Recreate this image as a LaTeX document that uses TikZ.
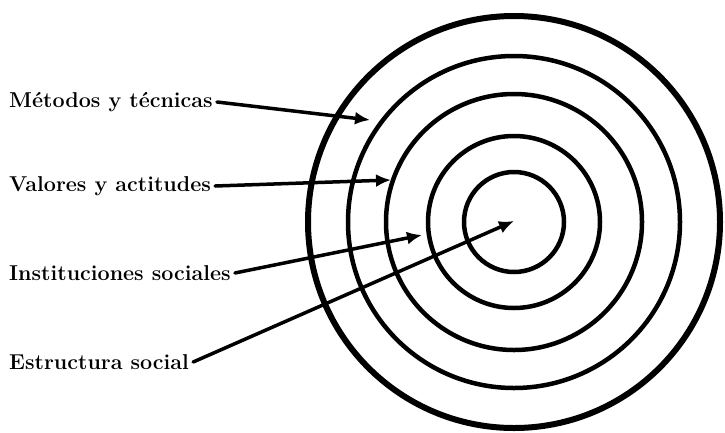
\documentclass[tikz,border=0pt]{standalone}
\usepackage{tikz}
\usetikzlibrary{arrows.meta,positioning}

\begin{document}
\begin{tikzpicture}[x=1pt,y=-1pt,
    lbl/.style={anchor=west,inner sep=4pt,font=\fontsize{21.5}{25}\selectfont\bfseries},
    ring/.style={line width=4.5pt},
    pointer/.style={line width=3.5pt,line cap=round,-{Latex[length=15pt,width=13pt]}}]
    \useasboundingbox (0,0) rectangle (725,432);
    % rings round the common centre
    \coordinate (c) at (514,222);
    \draw[ring,line width=6pt] (c) circle[radius=206pt];
    \foreach \r in {166,128,86,50}
        \draw[ring] (c) circle[radius=\r pt];
    % labels on the left
    \node[lbl] (met) at (5,102) {Métodos y técnicas};
    \node[lbl] (val) at (5,186) {Valores y actitudes};
    \node[lbl] (ins) at (5,273) {Instituciones sociales};
    \node[lbl] (est) at (5,362) {Estructura social};
    % arrow tips, one per ring
    \coordinate (t1) at (370,120);
    \coordinate (t2) at (391,180);
    \coordinate (t3) at (422,235);
    \coordinate (t4) at (514,221);
    \draw[pointer] (met.east) -- (t1);
    \draw[pointer] (val.east) -- (t2);
    \draw[pointer] (ins.east) -- (t3);
    \draw[pointer] (est.east) -- (t4);
\end{tikzpicture}
\end{document}
